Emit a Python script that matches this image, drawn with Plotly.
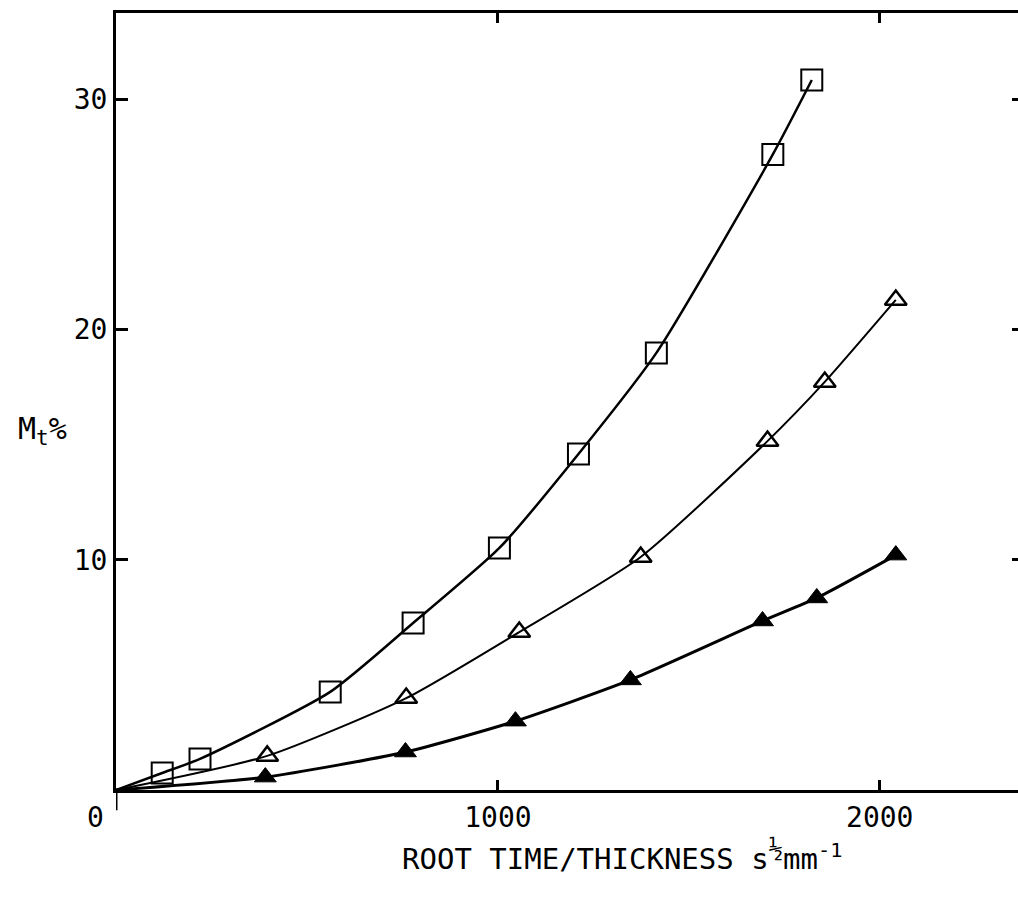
import plotly.graph_objects as go

# Data
sq_x = [121, 220, 561, 778, 1004, 1211, 1415, 1720, 1822]
sq_y = [0.74, 1.35, 4.26, 7.25, 10.51, 14.59, 18.98, 27.60, 30.83]

ot_x = [396, 760, 1056, 1374, 1706, 1856, 2042]
ot_y = [1.48, 3.99, 6.86, 10.12, 15.15, 17.72, 21.28]

ft_x = [391, 758, 1046, 1347, 1693, 1835, 2042]
ft_y = [0.56, 1.65, 2.99, 4.78, 7.34, 8.34, 10.20]

x_ticks = [1000, 2000]
x_tick_labels = ["1000", "2000"]
y_ticks = [10, 20, 30]
y_tick_labels = ["10", "20", "30"]

X_RANGE = [0, 2362]
Y_RANGE = [0, 33.74]

FONT = "DejaVu Sans Mono"
BLACK = "#000000"

fig = go.Figure()

series = [
    (sq_x, sq_y, "square-open", 21, 2.5, 2.0),
    (ot_x, ot_y, "triangle-up-open", 19, 2.0, 2.5),
    (ft_x, ft_y, "triangle-up", 19, 3.0, 1.0),
]

for xs, ys, sym, msize, lw, mlw in series:
    fig.add_trace(go.Scatter(
        x=[0] + xs, y=[0] + ys, mode="lines",
        line=dict(color=BLACK, width=lw, shape="spline", smoothing=0.6),
        hoverinfo="skip", showlegend=False,
    ))
    fig.add_trace(go.Scatter(
        x=xs, y=ys, mode="markers",
        marker=dict(symbol=sym, size=msize, color=BLACK,
                    line=dict(color=BLACK, width=mlw)),
        showlegend=False,
    ))

# invisible trace to hold right-side tick axis
fig.add_trace(go.Scatter(x=[0], y=[0], yaxis="y2", mode="markers",
                         marker=dict(opacity=0), showlegend=False, hoverinfo="skip"))

fig.update_layout(
    width=1018, height=900,
    margin=dict(l=116, r=0, t=13, b=110),
    paper_bgcolor="white", plot_bgcolor="white",
    font=dict(family=FONT, size=28, color=BLACK),
    xaxis=dict(
        range=X_RANGE, showgrid=False, zeroline=False,
        showline=True, linecolor=BLACK, linewidth=3, mirror="ticks",
        ticks="inside", ticklen=10, tickwidth=2.5, tickcolor=BLACK,
        tickvals=x_ticks, ticktext=x_tick_labels,
        tickfont=dict(family=FONT, size=28),
    ),
    yaxis=dict(
        range=Y_RANGE, showgrid=False, zeroline=False,
        showline=True, linecolor=BLACK, linewidth=3,
        ticks="inside", ticklen=12, tickwidth=3, tickcolor=BLACK,
        tickvals=y_ticks, ticktext=y_tick_labels,
        tickfont=dict(family=FONT, size=28),
    ),
    yaxis2=dict(
        range=Y_RANGE, overlaying="y", side="right",
        showgrid=False, zeroline=False, showline=False,
        ticks="inside", ticklen=6, tickwidth=3, tickcolor=BLACK,
        tickvals=y_ticks, showticklabels=False,
    ),
)

# y axis line continues a little below the origin, as in the reference
fig.add_shape(type="line", xref="x", yref="paper", x0=0, x1=0, y0=0, y1=-0.026,
              line=dict(color=BLACK, width=3))

# origin label
fig.add_annotation(x=0, y=0, xref="x", yref="y", text="0", showarrow=False,
                   xshift=-21, yshift=-27, font=dict(family=FONT, size=28))
# y title
fig.add_annotation(x=-0.082, y=0.463, xref="paper", yref="paper",
                   xanchor="center", yanchor="middle",
                   text="M<sub>t</sub>%", showarrow=False,
                   font=dict(family=FONT, size=30))
# x title
fig.add_annotation(x=0.561, y=-0.0837, xref="paper", yref="paper",
                   xanchor="center", yanchor="middle",
                   text="ROOT TIME/THICKNESS s<sup><span style='font-size:24px'>½</span></sup>mm<sup>-1</sup>",
                   showarrow=False, font=dict(family=FONT, size=29))

fig.write_html("out.html")
